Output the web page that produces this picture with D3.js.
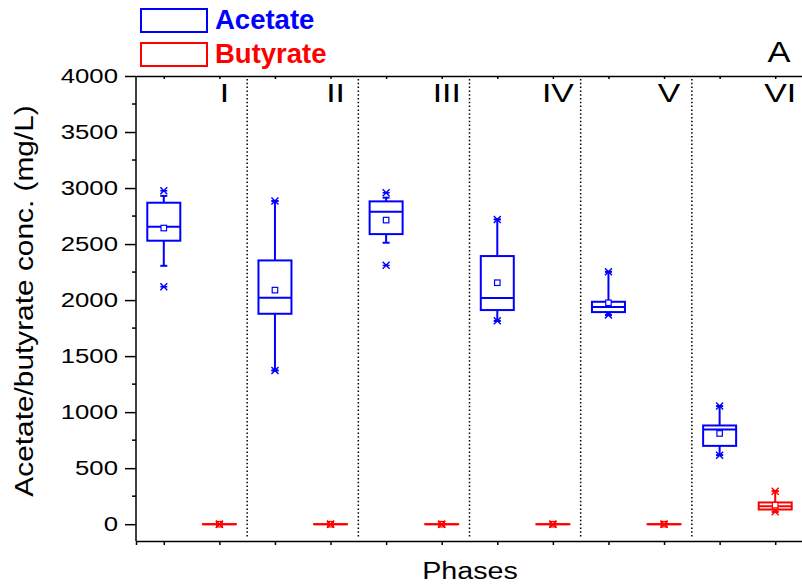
<!DOCTYPE html>
<html>
<head>
<meta charset="utf-8">
<script src="https://cdn.jsdelivr.net/npm/d3@7"></script>
<style>
  body { margin: 0; background: #fff; }
  svg { display: block; font-family: "Liberation Sans", Arial, sans-serif; }
</style>
</head>
<body>
<div id="chart"></div>
<script>
// phases and box statistics (mg/L)
const phases = ["I", "II", "III", "IV", "V", "VI"];

const acetateMin    = [2119, 1372, 2310, 1815, 1866, 616];
const acetateLo     = [2306, 1372, 2512, 1815, 1866, 616];
const acetateQ1     = [2530, 1878, 2589, 1911, 1893, 699];
const acetateMedian = [2655, 2021, 2789, 2018, 1938, 845];
const acetateQ3     = [2869, 2354, 2881, 2393, 1985, 881];
const acetateHi     = [2930, 2884, 2914, 2720, 2253, 1054];
const acetateMax    = [2976, 2884, 2958, 2720, 2253, 1054];
const acetateMean   = [2643, 2089, 2714, 2155, 1976, 810];

const butyrateMin    = [0, 0, 0, 0, 0, 110];
const butyrateLo     = [0, 0, 0, 0, 0, 110];
const butyrateQ1     = [0, 0, 0, 0, 0, 131];
const butyrateMedian = [0, 0, 0, 0, 0, 161];
const butyrateQ3     = [0, 0, 0, 0, 0, 194];
const butyrateHi     = [0, 0, 0, 0, 0, 295];
const butyrateMax    = [0, 0, 0, 0, 0, 295];
const butyrateMean   = [0, 0, 0, 0, 0, 170];

const yTicks = [0, 500, 1000, 1500, 2000, 2500, 3000, 3500, 4000];

const width = 802;
const height = 587;

const svg = d3.select("#chart")
    .append("svg")
    .attr("width", width)
    .attr("height", height);

// scales: 12 slots, acetate and butyrate side by side in each phase
const x = d3.scaleLinear().domain([0.5, 12.5]).range([136, 803]);
const y = d3.scaleLinear().domain([-150, 4000]).range([541, 76]);

// y axis (labels drawn by hand below, the original font is wide)
const yAxis = svg.append("g")
    .attr("transform", "translate(136,0)")
    .call(d3.axisLeft(y).tickValues(yTicks).tickSize(11).tickFormat(""));
yAxis.select(".domain").remove();
yAxis.selectAll("line").attr("stroke", "#000").attr("stroke-width", 1.5);

svg.append("g")
    .selectAll("text")
    .data(yTicks)
    .enter()
    .append("text")
    .attr("transform", d => `translate(118,${y(d)}) scale(1.32,1)`)
    .attr("dy", "0.36em")
    .attr("text-anchor", "end")
    .attr("font-size", 19.5)
    .text(d => d);

// minor ticks
svg.append("g")
    .selectAll("line")
    .data(d3.range(250, 4000, 500))
    .enter()
    .append("line")
    .attr("x1", 132).attr("x2", 136)
    .attr("y1", d => y(d)).attr("y2", d => y(d))
    .attr("stroke", "#000").attr("stroke-width", 1.5);

svg.append("line")
    .attr("x1", 136).attr("x2", 136)
    .attr("y1", y(4000)).attr("y2", y(-150))
    .attr("stroke", "#000").attr("stroke-width", 1.5);

// x axis, ticks at every slot, no labels
const xAxis = svg.append("g")
    .attr("transform", "translate(0," + y(-150) + ")")
    .call(d3.axisBottom(x).tickValues(d3.range(1, 13)).tickSize(4).tickFormat(""));
xAxis.select(".domain").attr("stroke", "#000").attr("stroke-width", 1.5);
xAxis.selectAll("line").attr("stroke", "#000").attr("stroke-width", 1.5);

// top frame line with small inward ticks
const xTop = svg.append("g")
    .attr("transform", "translate(0," + y(4000) + ")")
    .call(d3.axisBottom(x).tickValues(d3.range(1, 13)).tickSize(3).tickSizeOuter(0).tickFormat(""));
xTop.select(".domain").attr("stroke", "#000").attr("stroke-width", 1.5);
xTop.selectAll("line").attr("stroke", "#000").attr("stroke-width", 1.5);

// dotted phase separators
svg.append("g")
    .selectAll("line")
    .data(d3.range(2.5, 12, 2))
    .enter()
    .append("line")
    .attr("x1", d => x(d)).attr("x2", d => x(d))
    .attr("y1", y(4000) + 3).attr("y2", y(-150) - 3)
    .attr("stroke", "#000")
    .attr("stroke-width", 1.5)
    .attr("stroke-dasharray", "1.5,2.3");

// phase labels
svg.append("g")
    .selectAll("text")
    .data(phases)
    .enter()
    .append("text")
    .attr("transform", (d, i) => `translate(${x(2 * i + 2) + 5},102) scale(1.3,1)`)
    .attr("text-anchor", "middle")
    .attr("font-size", 26)
    .text(d => d);

svg.append("text")
    .attr("transform", "translate(779,62) scale(1.15,1)")
    .attr("text-anchor", "middle")
    .attr("font-size", 30)
    .text("A");

// boxes
const boxW = 33;
const capW = 7;
const mk = 3.5;

function drawSeries(color, offset, lo, q1, med, q3, hi, mn, mx, mean) {
    const g = svg.append("g").attr("stroke", color).attr("fill", "none");
    phases.forEach((p, i) => {
        const cx = x(2 * i + offset);
        // whiskers
        g.append("line").attr("x1", cx).attr("x2", cx)
            .attr("y1", y(q3[i])).attr("y2", y(hi[i])).attr("stroke-width", 2);
        g.append("line").attr("x1", cx).attr("x2", cx)
            .attr("y1", y(q1[i])).attr("y2", y(lo[i])).attr("stroke-width", 2);
        [lo[i], hi[i]].forEach(v => {
            g.append("line").attr("x1", cx - capW / 2).attr("x2", cx + capW / 2)
                .attr("y1", y(v)).attr("y2", y(v)).attr("stroke-width", 2);
        });
        // box
        g.append("rect")
            .attr("x", cx - boxW / 2)
            .attr("y", y(q3[i]))
            .attr("width", boxW)
            .attr("height", Math.max(0.01, y(q1[i]) - y(q3[i])))
            .attr("stroke-width", 2);
        g.append("line").attr("x1", cx - boxW / 2).attr("x2", cx + boxW / 2)
            .attr("y1", y(med[i])).attr("y2", y(med[i])).attr("stroke-width", 2);
        // mean
        g.append("rect")
            .attr("x", cx - 2.75).attr("y", y(mean[i]) - 2.75)
            .attr("width", 5.5).attr("height", 5.5)
            .attr("fill", "#fff")
            .attr("stroke-width", 1.2);
        // min / max markers
        [mn[i], mx[i]].forEach(v => {
            const cy = y(v);
            g.append("path")
                .attr("d", `M${cx - mk},${cy - mk}L${cx + mk},${cy + mk}M${cx - mk},${cy + mk}L${cx + mk},${cy - mk}M${cx - mk},${cy}L${cx + mk},${cy}`)
                .attr("stroke-width", 1.4);
        });
    });
}

drawSeries("#0000ff", 1, acetateLo, acetateQ1, acetateMedian, acetateQ3, acetateHi,
    acetateMin, acetateMax, acetateMean);
drawSeries("#ff0000", 2, butyrateLo, butyrateQ1, butyrateMedian, butyrateQ3, butyrateHi,
    butyrateMin, butyrateMax, butyrateMean);

// legend
const legend = [["Acetate", "#0000ff"], ["Butyrate", "#ff0000"]];
legend.forEach((d, i) => {
    svg.append("rect")
        .attr("x", 141).attr("y", 9 + i * 34)
        .attr("width", 66).attr("height", 23)
        .attr("fill", "none").attr("stroke", d[1]).attr("stroke-width", 2);
    svg.append("text")
        .attr("x", 215).attr("y", 28.5 + i * 34.5)
        .attr("font-size", 27.5).attr("font-weight", "bold")
        .attr("fill", d[1])
        .text(d[0]);
});

// axis titles
svg.append("text")
    .attr("transform", "translate(470,579) scale(1.17,1)")
    .attr("text-anchor", "middle")
    .attr("font-size", 24.5)
    .text("Phases");

svg.append("text")
    .attr("transform", "translate(33,301) rotate(-90) scale(1.17,1)")
    .attr("text-anchor", "middle")
    .attr("font-size", 25.5)
    .text("Acetate/butyrate conc. (mg/L)");
</script>
</body>
</html>
